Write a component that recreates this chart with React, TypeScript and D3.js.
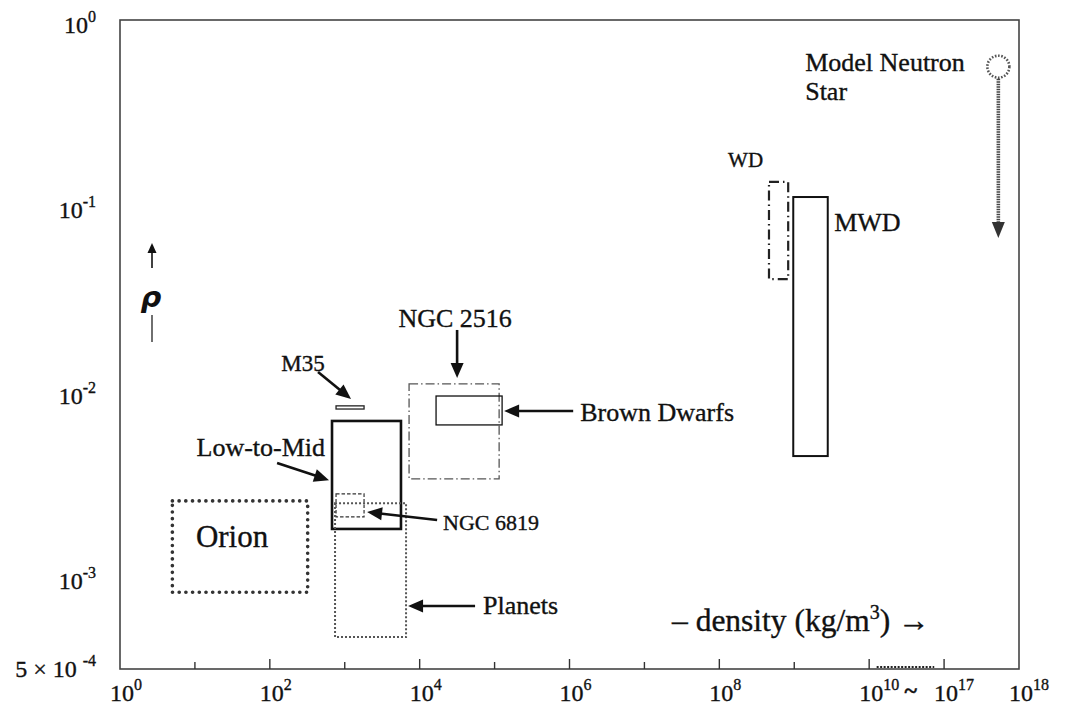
import React from "react";
import * as d3 from "d3";

// ---------- data ----------
const regionNames = ["Orion", "Low-to-Mid", "M35", "NGC 6819", "Planets", "NGC 2516", "Brown Dwarfs", "WD", "MWD"];
const densityMin = [5, 676, 765, 765, 742, 7220, 16550, 4.6e8, 9.7e8];
const densityMax = [320, 5630, 1810, 1810, 6580, 1.15e5, 1.26e5, 8.3e8, 2.8e9];
const rhoMin = [8.2e-4, 1.8e-3, 7.98e-3, 2.09e-3, 4.7e-4, 3.35e-3, 6.55e-3, 0.04, 4.45e-3];
const rhoMax = [2.55e-3, 6.88e-3, 8.3e-3, 2.78e-3, 2.48e-3, 1.09e-2, 9.38e-3, 0.134, 0.111];

const neutronDensity = 5.3e17;
const neutronRho = 0.56;
const neutronArrowRho = 0.0667;

const breakFrom = 5e10;
const breakTo = 1.2e16;

const arrowNames = ["M35", "Low-to-Mid", "NGC 6819", "Planets", "NGC 2516", "Brown Dwarfs"];
const arrowFromDensity = [440, 125, 17100, 54900, 31600, 1.12e6];
const arrowFromRho = [0.01264, 4.08e-3, 2.01e-3, 6.92e-4, 0.0213, 7.79e-3];
const arrowToDensity = [1213, 617, 1985, 7000, 31600, 1.34e5];
const arrowToRho = [9.04e-3, 3.3e-3, 2.22e-3, 6.92e-4, 0.01173, 7.79e-3];

const textLabels = ["M35", "Low-to-Mid", "Orion", "NGC 6819", "Planets", "NGC 2516", "Brown Dwarfs", "WD", "MWD", "Model Neutron", "Star"];
const textDensity = [277, 546, 31.3, 20500, 70300, 29700, 1.39e6, 1.31e8, 3.41e9, 1.4e9, 1.4e9];
const textRho = [0.01413, 4.92e-3, 1.63e-3, 1.96e-3, 6.92e-4, 0.0247, 7.69e-3, 0.176, 0.0814, 0.593, 0.409];

const xTickValues = [1, 1e1, 1e2, 1e3, 1e4, 1e5, 1e6, 1e7, 1e8, 1e9, 1e10, 1e17, 1e18];
const xLabelValues = [1, 1e2, 1e4, 1e6, 1e8, 1e10, 1e17, 1e18];
const xLabelExps = ["0", "2", "4", "6", "8", "10", "17", "18"];
const yLabelValues = [1, 0.1, 0.01, 0.001, Math.pow(10, -3.5)];
const yLabelBase = ["10", "10", "10", "10", "5 × 10 "];
const yLabelExps = ["0", "-1", "-2", "-3", "-4"];

// ---------- layout ----------
const W = 1068, H = 706;
const left = 120, right = 1019, top = 20, bottom = 669;
const step = (right - left) / 12;

const xLin = d3.scaleLinear().domain([0, 10, 17, 18]).range([left, left + 10 * step, left + 11 * step, left + 12 * step]);
const x = (v: number) => xLin(Math.log10(v));
const y = d3.scaleLog().domain([Math.pow(10, -3.5), 1]).range([bottom, top]);

const FONT = "Liberation Serif, Times New Roman, serif";
const TXT = { fill: "#111", stroke: "#111", strokeWidth: 0.35 };

type Style = { stroke: string; width: number; dash?: string; cap?: string };
const styles: Record<string, Style> = {
  "Orion": { stroke: "#333", width: 3.6, dash: "0.1,6.6", cap: "round" },
  "Low-to-Mid": { stroke: "#111", width: 2.6 },
  "M35": { stroke: "#222", width: 1.3 },
  "NGC 6819": { stroke: "#333", width: 1.2, dash: "3.5,2" },
  "Planets": { stroke: "#555", width: 2, dash: "2,2" },
  "NGC 2516": { stroke: "#555", width: 1.3, dash: "9,3,1.5,3" },
  "Brown Dwarfs": { stroke: "#111", width: 1.3 },
  "WD": { stroke: "#222", width: 2.2, dash: "10,4,1.5,4" },
  "MWD": { stroke: "#111", width: 2 },
};

const textAnchor: Record<string, string> = {
  "M35": "middle", "Low-to-Mid": "end", "Orion": "middle", "NGC 2516": "middle",
};
const textSize: Record<string, number> = {
  "Orion": 31, "WD": 21, "M35": 23, "NGC 6819": 22,
};

function Arrow({ x1, y1, x2, y2, head = 15, hw = 6.5, w = 2.6, color = "#111" }: any) {
  const dx = x2 - x1, dy = y2 - y1;
  const len = Math.sqrt(dx * dx + dy * dy);
  const ux = dx / len, uy = dy / len;
  const bx = x2 - ux * head, by = y2 - uy * head;
  const px = -uy, py = ux;
  const pts = [[x2, y2], [bx + px * hw, by + py * hw], [bx - px * hw, by - py * hw]];
  return (
    <g>
      <line x1={x1} y1={y1} x2={bx + ux * 2} y2={by + uy * 2} stroke={color} strokeWidth={w} />
      <polygon points={pts.map((p) => p.join(",")).join(" ")} fill={color} />
    </g>
  );
}

export default function App() {
  const nx = x(neutronDensity);
  const ny = y(neutronRho);
  const r = 11;
  return (
    <svg width={W} height={H} style={{ position: "absolute", left: 0, top: 0, background: "#fff" }} fontFamily={FONT}>
      <rect x={0} y={0} width={W} height={H} fill="#fff" />
      {/* frame */}
      <rect x={left} y={top} width={right - left} height={bottom - top} fill="none" stroke="#444" strokeWidth={1.6} />
      {/* x ticks */}
      {xTickValues.map((v, i) => {
        const e = Math.round(Math.log10(v));
        if (v === 1 || v === 1e18) return null;
        const len = e % 2 === 0 || e === 17 ? 10 : 7;
        return <line key={i} x1={x(v)} x2={x(v)} y1={bottom} y2={bottom - len} stroke="#333" strokeWidth={1.4} />;
      })}
      {/* x labels */}
      {xLabelValues.map((v, i) => (
        <text key={i} x={x(v) - 10} y={701} fontSize={24} {...TXT}>
          10<tspan dy={-11} fontSize={16}>{xLabelExps[i]}</tspan>
        </text>
      ))}
      <text x={(x(1e10) + x(1e17)) / 2 + 4} y={698} fontSize={24} fontWeight="bold" textAnchor="middle" {...TXT}>~</text>
      {/* y labels */}
      {yLabelValues.map((v, i) => (
        <text key={i} x={96} y={i === 4 ? 677 : y(v) + 13} fontSize={24} textAnchor="end" {...TXT}>
          {yLabelBase[i]}<tspan dy={-11} fontSize={16}>{yLabelExps[i]}</tspan>
        </text>
      ))}
      {/* y axis title */}
      <line x1={152} x2={152} y1={251} y2={268} stroke="#111" strokeWidth={1.6} />
      <polygon points="152,243 147.5,253 156.5,253" fill="#111" />
      <text x={151} y={307} fontSize={29} textAnchor="middle" fill="#111" fontWeight="bold" fontStyle="italic" fontFamily="DejaVu Sans, sans-serif">ρ</text>
      <line x1={152} x2={152} y1={315} y2={342} stroke="#222" strokeWidth={1.3} />
      {/* x axis title */}
      <text x={672} y={631} fontSize={31.5} {...TXT}>
        – density (kg/m<tspan dy={-12} fontSize={20}>3</tspan><tspan dy={12}>) →</tspan>
      </text>
      {/* region boxes */}
      {regionNames.map((n, i) => {
        const s = styles[n];
        const x0 = x(densityMin[i]), x1 = x(densityMax[i]);
        const y0 = y(rhoMax[i]), y1 = y(rhoMin[i]);
        return (
          <rect key={n} x={x0} y={y0} width={x1 - x0} height={y1 - y0}
            fill={n === "M35" ? "#fff" : "none"} stroke={s.stroke} strokeWidth={s.width}
            strokeDasharray={s.dash} strokeLinecap={(s.cap as any) || "butt"} />
        );
      })}
      {/* break dotted segment on axis */}
      <line x1={x(breakFrom)} x2={x(breakTo)} y1={bottom - 2} y2={bottom - 2} stroke="#222" strokeWidth={2} strokeDasharray="2,1.5" />
      {/* arrows */}
      {arrowNames.map((n, i) => (
        <Arrow key={n} x1={x(arrowFromDensity[i])} y1={y(arrowFromRho[i])} x2={x(arrowToDensity[i])} y2={y(arrowToRho[i])} />
      ))}
      {/* neutron star */}
      <circle cx={nx} cy={ny} r={r} fill="none" stroke="#555" strokeWidth={2.6} strokeDasharray="1.6,1.6" />
      <line x1={nx} x2={nx} y1={ny + r + 1} y2={y(neutronArrowRho) - 14} stroke="#444" strokeWidth={3.6} strokeDasharray="1.5,1" />
      <polygon points={`${nx},${y(neutronArrowRho)} ${nx - 6.5},${y(neutronArrowRho) - 16} ${nx + 6.5},${y(neutronArrowRho) - 16}`} fill="#333" />
      {/* text labels */}
      {textLabels.map((t, i) => (
        <text key={t} x={x(textDensity[i])} y={y(textRho[i])} fontSize={textSize[t] || 26}
          textAnchor={textAnchor[t] || "start"} dominantBaseline="central" {...TXT}>{t}</text>
      ))}
    </svg>
  );
}
